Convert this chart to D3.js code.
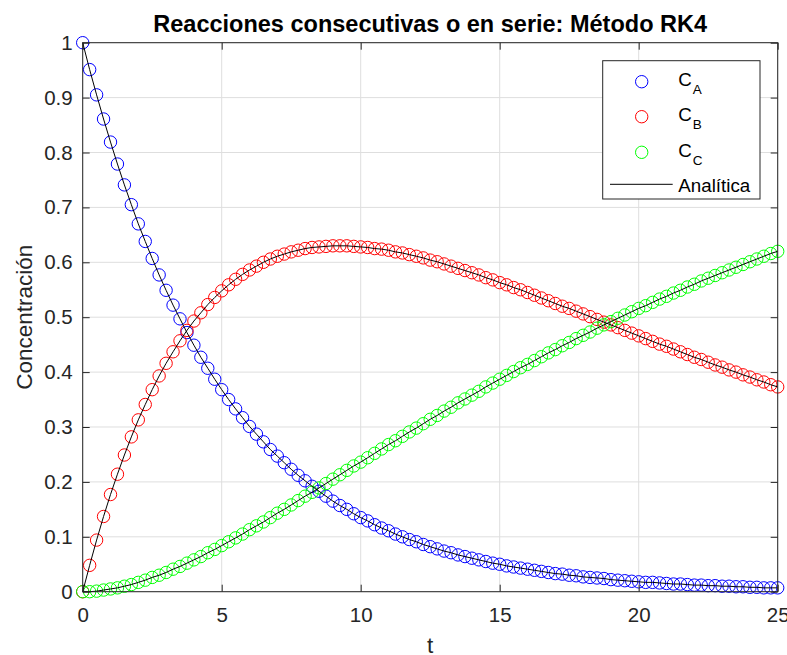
<!DOCTYPE html>
<html>
<head>
<meta charset="utf-8">
<script src="https://cdn.jsdelivr.net/npm/d3@7"></script>
<style>
  body { margin: 0; background: #fff; }
  svg text { font-family: "Liberation Sans", Arial, Helvetica, sans-serif; }
</style>
</head>
<body>
<div id="chart"></div>
<script>
// Tiempo (paso 0.25)
const t = [
  0, 0.25, 0.5, 0.75, 1, 1.25, 1.5, 1.75, 2, 2.25,
  2.5, 2.75, 3, 3.25, 3.5, 3.75, 4, 4.25, 4.5, 4.75,
  5, 5.25, 5.5, 5.75, 6, 6.25, 6.5, 6.75, 7, 7.25,
  7.5, 7.75, 8, 8.25, 8.5, 8.75, 9, 9.25, 9.5, 9.75,
  10, 10.25, 10.5, 10.75, 11, 11.25, 11.5, 11.75, 12, 12.25,
  12.5, 12.75, 13, 13.25, 13.5, 13.75, 14, 14.25, 14.5, 14.75,
  15, 15.25, 15.5, 15.75, 16, 16.25, 16.5, 16.75, 17, 17.25,
  17.5, 17.75, 18, 18.25, 18.5, 18.75, 19, 19.25, 19.5, 19.75,
  20, 20.25, 20.5, 20.75, 21, 21.25, 21.5, 21.75, 22, 22.25,
  22.5, 22.75, 23, 23.25, 23.5, 23.75, 24, 24.25, 24.5, 24.75,
  25
];

const cA = [
  1.000, 0.951, 0.905, 0.861, 0.819, 0.779, 0.741, 0.705, 0.670, 0.638,
  0.607, 0.577, 0.549, 0.522, 0.497, 0.472, 0.449, 0.427, 0.407, 0.387,
  0.368, 0.350, 0.333, 0.317, 0.301, 0.287, 0.273, 0.259, 0.247, 0.235,
  0.223, 0.212, 0.202, 0.192, 0.183, 0.174, 0.165, 0.157, 0.150, 0.142,
  0.135, 0.129, 0.122, 0.116, 0.111, 0.105, 0.100, 0.095, 0.091, 0.086,
  0.082, 0.078, 0.074, 0.071, 0.067, 0.064, 0.061, 0.058, 0.055, 0.052,
  0.050, 0.047, 0.045, 0.043, 0.041, 0.039, 0.037, 0.035, 0.033, 0.032,
  0.030, 0.029, 0.027, 0.026, 0.025, 0.024, 0.022, 0.021, 0.020, 0.019,
  0.018, 0.017, 0.017, 0.016, 0.015, 0.014, 0.014, 0.013, 0.012, 0.012,
  0.011, 0.011, 0.010, 0.010, 0.009, 0.009, 0.008, 0.008, 0.007, 0.007,
  0.007
];

const cB = [
  0.000, 0.048, 0.094, 0.137, 0.177, 0.214, 0.249, 0.282, 0.313, 0.341,
  0.368, 0.393, 0.416, 0.437, 0.457, 0.476, 0.493, 0.508, 0.523, 0.536,
  0.548, 0.559, 0.569, 0.578, 0.586, 0.593, 0.600, 0.606, 0.611, 0.615,
  0.619, 0.622, 0.625, 0.627, 0.628, 0.629, 0.630, 0.630, 0.630, 0.629,
  0.628, 0.627, 0.625, 0.624, 0.622, 0.619, 0.617, 0.614, 0.611, 0.608,
  0.604, 0.601, 0.597, 0.593, 0.589, 0.585, 0.581, 0.577, 0.572, 0.568,
  0.563, 0.559, 0.554, 0.550, 0.545, 0.540, 0.535, 0.530, 0.525, 0.520,
  0.516, 0.511, 0.506, 0.501, 0.496, 0.491, 0.486, 0.481, 0.476, 0.471,
  0.466, 0.461, 0.456, 0.451, 0.447, 0.442, 0.437, 0.432, 0.427, 0.423,
  0.418, 0.413, 0.409, 0.404, 0.400, 0.395, 0.391, 0.386, 0.382, 0.377,
  0.373
];

const cC = [
  0.000, 0.000, 0.001, 0.003, 0.005, 0.007, 0.010, 0.013, 0.017, 0.021,
  0.026, 0.030, 0.035, 0.041, 0.046, 0.052, 0.058, 0.064, 0.071, 0.077,
  0.084, 0.091, 0.098, 0.105, 0.113, 0.120, 0.127, 0.135, 0.143, 0.150,
  0.158, 0.166, 0.174, 0.181, 0.189, 0.197, 0.205, 0.213, 0.221, 0.229,
  0.236, 0.244, 0.252, 0.260, 0.268, 0.275, 0.283, 0.291, 0.298, 0.306,
  0.314, 0.321, 0.329, 0.336, 0.344, 0.351, 0.358, 0.365, 0.373, 0.380,
  0.387, 0.394, 0.401, 0.408, 0.414, 0.421, 0.428, 0.435, 0.441, 0.448,
  0.454, 0.461, 0.467, 0.473, 0.480, 0.486, 0.492, 0.498, 0.504, 0.510,
  0.516, 0.521, 0.527, 0.533, 0.538, 0.544, 0.549, 0.555, 0.560, 0.566,
  0.571, 0.576, 0.581, 0.586, 0.591, 0.596, 0.601, 0.606, 0.611, 0.616,
  0.620
];

const xTicks = [0, 5, 10, 15, 20, 25];
const yTicks = [0, 0.1, 0.2, 0.3, 0.4, 0.5, 0.6, 0.7, 0.8, 0.9, 1];

const seriesNames = ["A", "B", "C"];
const seriesColors = ["#0000ff", "#ff0000", "#00ff00"];
const seriesValues = [cA, cB, cC];

// Dimensions
const W = 787, H = 655;
const margin = { top: 42.7, right: 9.3, bottom: 63.3, left: 82.7 };
const width = W - margin.left - margin.right;
const height = H - margin.top - margin.bottom;
const axisColor = "#262626";

const svg = d3.select("#chart")
    .append("svg")
    .attr("width", W)
    .attr("height", H);

const g = svg.append("g")
    .attr("transform", `translate(${margin.left},${margin.top})`);

// Scales
const x = d3.scaleLinear().domain([0, 25]).range([0, width]);
const y = d3.scaleLinear().domain([0, 1]).range([height, 0]);

// Grid
g.append("g")
    .selectAll("line")
    .data(xTicks)
    .join("line")
    .attr("x1", d => x(d)).attr("x2", d => x(d))
    .attr("y1", 0).attr("y2", height)
    .attr("stroke", "#dedede");

g.append("g")
    .selectAll("line")
    .data(yTicks)
    .join("line")
    .attr("x1", 0).attr("x2", width)
    .attr("y1", d => y(d)).attr("y2", d => y(d))
    .attr("stroke", "#dedede");

// Markers
seriesValues.forEach((vals, i) => {
    g.append("g")
        .selectAll("circle")
        .data(t)
        .join("circle")
        .attr("cx", (d) => x(d))
        .attr("cy", (d, j) => y(vals[j]))
        .attr("r", 6.2)
        .attr("fill", "none")
        .attr("stroke", seriesColors[i])
        .attr("stroke-width", 1);
});

// Analytic lines
const line = d3.line()
    .x(d => x(d[0]))
    .y(d => y(d[1]));

seriesValues.forEach(vals => {
    g.append("path")
        .datum(t.map((d, j) => [d, vals[j]]))
        .attr("fill", "none")
        .attr("stroke", "#000")
        .attr("stroke-width", 1)
        .attr("d", line);
});

// Axes (ticks pointing inwards)
const fmt = d3.format(".1~f");

const xAxis = g.append("g")
    .attr("transform", `translate(0,${height})`)
    .call(d3.axisBottom(x).tickValues(xTicks).tickSizeInner(-7).tickSizeOuter(0).tickPadding(16).tickFormat(fmt));

const yAxis = g.append("g")
    .call(d3.axisLeft(y).tickValues(yTicks).tickSizeInner(-7).tickSizeOuter(0).tickPadding(10).tickFormat(fmt));

const xTop = g.append("g")
    .call(d3.axisTop(x).tickValues(xTicks).tickSizeInner(-7).tickSizeOuter(0).tickFormat(""));

const yRight = g.append("g")
    .attr("transform", `translate(${width},0)`)
    .call(d3.axisRight(y).tickValues(yTicks).tickSizeInner(-7).tickSizeOuter(0).tickFormat(""));

[xAxis, yAxis, xTop, yRight].forEach(a => {
    a.select(".domain").remove();
    a.selectAll("line").attr("stroke", axisColor);
    a.selectAll("text")
        .attr("fill", axisColor)
        .style("font-size", "20.5px");
});

// Box
g.append("rect")
    .attr("width", width)
    .attr("height", height)
    .attr("fill", "none")
    .attr("stroke", axisColor)
    .attr("stroke-width", 1);

// Title
svg.append("text")
    .attr("x", margin.left + width / 2)
    .attr("y", 31.7)
    .attr("text-anchor", "middle")
    .style("font-size", "23.5px")
    .style("font-weight", "bold")
    .attr("fill", "#000")
    .text("Reacciones consecutivas o en serie: Método RK4");

// Axis labels
svg.append("text")
    .attr("x", margin.left + width / 2)
    .attr("y", 653)
    .attr("text-anchor", "middle")
    .style("font-size", "22.5px")
    .attr("fill", axisColor)
    .text("t");

svg.append("text")
    .attr("transform", `translate(31.7,${margin.top + height / 2}) rotate(-90)`)
    .attr("text-anchor", "middle")
    .style("font-size", "22.5px")
    .attr("fill", axisColor)
    .text("Concentración");

// Legend
const legend = svg.append("g")
    .attr("transform", "translate(602.7,60.7)");

legend.append("rect")
    .attr("width", 157.3)
    .attr("height", 138.3)
    .attr("fill", "#fff")
    .attr("stroke", axisColor)
    .attr("stroke-width", 1);

const rowY = [21, 56, 91.6];

seriesNames.forEach((name, i) => {
    legend.append("circle")
        .attr("cx", 39)
        .attr("cy", rowY[i])
        .attr("r", 6.2)
        .attr("fill", "none")
        .attr("stroke", seriesColors[i]);

    const label = legend.append("text")
        .attr("x", 75.6)
        .attr("y", rowY[i] + 4.5)
        .style("font-size", "18.75px")
        .attr("fill", "#000");
    label.append("tspan").text("C");
    label.append("tspan")
        .attr("dy", 8)
        .attr("dx", 1)
        .style("font-size", "13.5px")
        .text(name);
});

legend.append("line")
    .attr("x1", 7.3).attr("x2", 70)
    .attr("y1", 123.6).attr("y2", 123.6)
    .attr("stroke", "#000")
    .attr("stroke-width", 1);

legend.append("text")
    .attr("x", 75.6)
    .attr("y", 131)
    .style("font-size", "18.75px")
    .attr("fill", "#000")
    .text("Analítica");
</script>
</body>
</html>
